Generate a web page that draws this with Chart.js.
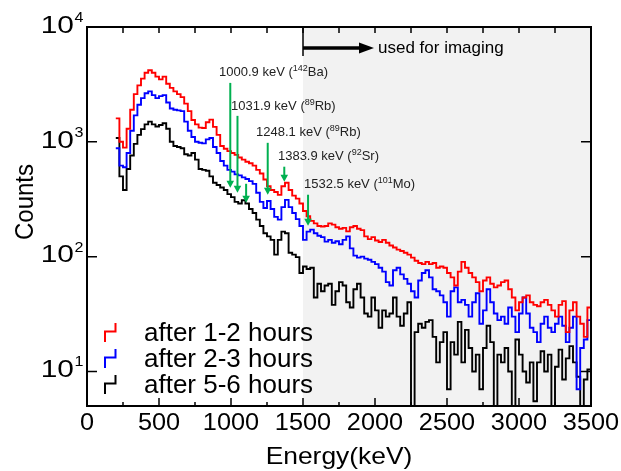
<!DOCTYPE html>
<html>
<head>
<meta charset="utf-8">
<script src="https://cdn.jsdelivr.net/npm/chart.js@4.4.1/dist/chart.umd.min.js"></script>
<style>
  body { margin: 0; background: #fff; }
</style>
</head>
<body>
<canvas id="spectrum" width="621" height="471"></canvas>
<script>
// spectrum bins: left edges from 200 keV, 25 keV wide, up to 3500 keV
const binStart = 200;
const binWidth = 25;
const energyMax = 3500;

// counts per bin
const counts12h = [
    1600, 1000, 890, 1300, 1900, 2600, 3100, 3550, 4000, 4200,
    4000, 3700, 3500, 3700, 3200, 2950, 2750, 2600, 2450, 2150,
    1850, 1550, 1420, 1330, 1320, 1480, 1560, 1350, 1150, 920,
    870, 830, 800, 770, 730, 700, 670, 650, 620, 570,
    530, 470, 410, 380, 365, 345, 410, 440, 380, 340,
    320, 290,
    250, 225, 205, 195, 185, 183, 185, 195, 190, 180,
    175, 178, 166, 180, 185, 175, 170, 150, 142, 148,
    138, 134, 140, 132, 125, 120, 115, 112, 108, 104,
    98, 92, 88, 86, 90,
    86, 88, 80, 82, 80, 72, 66, 56, 74, 90,
    80, 72, 66, 60, 50, 62, 66, 58, 54, 56,
    60, 62, 52, 44, 34, 40, 44, 46, 40, 38,
    37, 40, 42, 38, 34, 30, 38, 41, 22, 34,
    40, 30, 26, 20, 36
];
const counts23h = [
    880, 620, 600, 800, 1250, 1700, 2100, 2400, 2650, 2750,
    2550, 2400, 2500, 2550, 2200, 1950, 1900, 1880, 1850, 1500,
    1250, 1100, 1000, 980, 970, 1050, 1080, 900, 800, 680,
    620, 570, 550, 520, 510, 490, 475, 455, 430, 360,
    300, 265, 305, 260, 222, 210, 270, 312, 270, 240,
    212, 185,
    140, 165, 172, 160, 152, 148, 135, 140, 132, 136,
    128, 140, 150, 118, 102, 98, 100, 96, 94, 90,
    86, 80, 74, 60, 56, 76, 80, 70, 64, 58,
    50, 44, 62, 72, 76, 66, 52, 50, 46, 40,
    30, 50, 54, 40, 42, 38, 30, 40, 48, 26,
    34, 52, 40, 32, 28, 30, 26, 36, 30, 22,
    32, 44, 32, 24, 22, 18, 26, 30, 24, 22,
    26, 30, 25, 18, 24, 30, 7, 16, 19, 28
];
const counts56h = [
    1080, 500, 380, 580, 760, 960, 1150, 1290, 1420, 1500,
    1420, 1360, 1400, 1450, 1300, 1000, 920, 900, 880, 780,
    760, 800, 700, 580, 570, 560, 500, 440, 420, 400,
    380, 350, 330, 300, 290, 310, 290, 260, 240, 210,
    185, 160, 150, 140, 104, 140, 165, 160, 108, 104,
    99, 72,
    82, 78, 80, 44, 58, 50, 56, 58, 38, 50,
    60, 56, 40, 36, 52, 58, 44, 32, 30, 44,
    34, 24, 34, 30, 32, 44, 30, 25, 32, 40,
    3, 22, 26, 24, 27,
    28, 20, 12, 18, 22, 7, 18, 14, 27, 12,
    23, 16, 10, 14, 7, 16, 25, 18, 3, 14,
    12, 16, 10, 3, 19, 14, 10, 8, 12, 5.5,
    12, 15, 10, 14, 3, 11, 15.5, 8.5, 13, 16.6,
    12, 9, 3, 8.5, 10.4
];

const seriesNames = ['after 1-2 hours', 'after 2-3 hours', 'after 5-6 hours'];
const seriesColors = ['#ff0000', '#0000ff', '#000000'];

const xTicks = [0, 500, 1000, 1500, 2000, 2500, 3000, 3500];
const yDecades = [10, 100, 1000, 10000];
const imagingStart = 1500;

// gamma lines marked with green arrows
const peakText = ['1000.9 keV (', '1031.9 keV (', '1248.1 keV (', '1383.9 keV (', '1532.5 keV ('];
const peakMass = ['142', '89', '89', '92', '101'];
const peakElement = ['Ba)', 'Rb)', 'Rb)', 'Sr)', 'Mo)'];
const peakTextAt = [[917, 4083], [1000, 2055], [1174, 1231], [1326, 760], [1507, 437]];
const arrowEnergy = [995, 1045, 1105, 1255, 1370, 1535];
const arrowFrom = [3260, 1683, 431, 980, 607, 346];
const arrowTo = [399, 360, 295, 346, 449, 186];

let binEdges = [];
for (let e = binStart; e < energyMax; e += binWidth) binEdges.push(e);

function histPoints(vals) {
    let pts = binEdges.map((e, i) => ({ x: e, y: vals[i] }));
    pts.push({ x: energyMax, y: vals[vals.length - 1] });
    return pts;
}

const FONT = '"Liberation Sans", Arial, sans-serif';

function put(ctx, s, x, y, size, align, sx) {
    ctx.save();
    ctx.font = size + 'px ' + FONT;
    ctx.textAlign = align;
    ctx.textBaseline = 'alphabetic';
    ctx.translate(x, y);
    ctx.scale(sx, 1);
    ctx.fillText(s, 0, 0);
    let w = ctx.measureText(s).width * sx;
    ctx.restore();
    return w;
}

const decorations = {
    id: 'decorations',
    beforeDatasetsDraw(chart) {
        const { ctx, chartArea: a, scales } = chart;
        const xs = scales.x.getPixelForValue(imagingStart);
        ctx.save();
        ctx.fillStyle = '#f2f2f2';
        ctx.fillRect(xs, a.top, a.right - xs, a.bottom - a.top);
        ctx.restore();
    },
    afterDatasetsDraw(chart) {
        const { ctx, chartArea: a, scales } = chart;
        const x = scales.x, y = scales.y;
        ctx.save();
        ctx.fillStyle = '#000';
        ctx.strokeStyle = '#000';

        // frame
        ctx.lineWidth = 2;
        ctx.strokeRect(a.left, a.top, a.right - a.left, a.bottom - a.top);

        // x ticks, bottom and top, pointing inward
        ctx.lineWidth = 1.5;
        ctx.beginPath();
        for (let v = 250; v < energyMax; v += 250) {
            const px = x.getPixelForValue(v);
            const major = v % 500 === 0;
            ctx.moveTo(px, a.bottom);
            ctx.lineTo(px, a.bottom - (major ? 8 : 4));
            ctx.moveTo(px, a.top);
            ctx.lineTo(px, a.top + 6);
        }
        // y ticks, left and right
        yDecades.forEach(v => {
            const py = y.getPixelForValue(v);
            ctx.moveTo(a.left, py);
            ctx.lineTo(a.left + 10, py);
            ctx.moveTo(a.right, py);
            ctx.lineTo(a.right - 10, py);
        });
        ctx.stroke();

        // tick labels
        xTicks.forEach(v => {
            put(ctx, String(v), x.getPixelForValue(v), 430, 23, 'center', 1.1);
        });
        yDecades.forEach((v, i) => {
            const py = y.getPixelForValue(v);
            put(ctx, '10', 74, py + 5.7, 23, 'right', 1.3);
            put(ctx, String(i + 1), 74.5, py - 5, 14, 'left', 1.15);
        });

        // axis titles
        put(ctx, 'Energy(keV)', (a.left + a.right) / 2, 464, 24, 'center', 1.1);
        ctx.save();
        ctx.translate(33, 202);
        ctx.rotate(-Math.PI / 2);
        ctx.scale(1, 1.1);
        ctx.font = '24px ' + FONT;
        ctx.textAlign = 'center';
        ctx.textBaseline = 'alphabetic';
        ctx.fillText('Counts', 0, 0);
        ctx.restore();

        // "used for imaging" arrow
        ctx.lineWidth = 1.5;
        ctx.beginPath();
        ctx.moveTo(x.getPixelForValue(imagingStart), a.top);
        ctx.lineTo(x.getPixelForValue(imagingStart), a.top + 29);
        ctx.stroke();
        ctx.lineWidth = 3.5;
        ctx.beginPath();
        ctx.moveTo(x.getPixelForValue(imagingStart), 48);
        ctx.lineTo(362, 48);
        ctx.stroke();
        ctx.beginPath();
        ctx.moveTo(359, 42.5);
        ctx.lineTo(374, 48);
        ctx.lineTo(359, 53.5);
        ctx.closePath();
        ctx.fill();
        put(ctx, 'used for imaging', 378, 53, 17, 'left', 1);

        // legend
        const rows = [341, 367, 393];
        rows.forEach((b, i) => {
            ctx.strokeStyle = seriesColors[i];
            ctx.lineWidth = 2;
            ctx.beginPath();
            ctx.moveTo(105, b + 1);
            ctx.lineTo(105, b - 9.5);
            ctx.lineTo(115.5, b - 9.5);
            ctx.lineTo(115.5, b - 18);
            ctx.stroke();
            ctx.fillStyle = '#000';
            put(ctx, seriesNames[i], 144, b, 25, 'left', 1.04);
        });

        // green arrows
        ctx.strokeStyle = '#00b050';
        ctx.fillStyle = '#00b050';
        ctx.lineWidth = 2;
        arrowEnergy.forEach((e, i) => {
            const px = x.getPixelForValue(e);
            const y0 = y.getPixelForValue(arrowFrom[i]);
            const y1 = y.getPixelForValue(arrowTo[i]);
            ctx.beginPath();
            ctx.moveTo(px, y0);
            ctx.lineTo(px, y1 - 6);
            ctx.stroke();
            ctx.beginPath();
            ctx.moveTo(px - 3.8, y1 - 7);
            ctx.lineTo(px + 3.8, y1 - 7);
            ctx.lineTo(px, y1);
            ctx.closePath();
            ctx.fill();
        });

        // peak labels
        ctx.fillStyle = '#222';
        peakText.forEach((t, i) => {
            let px = x.getPixelForValue(peakTextAt[i][0]);
            const py = y.getPixelForValue(peakTextAt[i][1]) + 4.5;
            px += put(ctx, t, px, py, 13, 'left', 1);
            px += put(ctx, peakMass[i], px, py - 5, 9, 'left', 1);
            put(ctx, peakElement[i], px, py, 13, 'left', 1);
        });
        ctx.restore();
    }
};

const ctx = document.getElementById('spectrum').getContext('2d');
const spectrumChart = new Chart(ctx, {
    type: 'line',
    data: {
        datasets: [counts12h, counts23h, counts56h].map((vals, i) => ({
            label: seriesNames[i],
            data: histPoints(vals),
            borderColor: seriesColors[i],
            borderWidth: 1.9,
            stepped: 'before',
            fill: false,
            pointRadius: 0
        }))
    },
    options: {
        responsive: false,
        animation: false,
        layout: { padding: { left: 87, right: 30, top: 27, bottom: 65 } },
        plugins: {
            legend: { display: false },
            tooltip: { enabled: false }
        },
        scales: {
            x: { type: 'linear', min: 0, max: energyMax, display: false },
            y: { type: 'logarithmic', min: 5, max: 10000, display: false }
        }
    },
    plugins: [decorations]
});
</script>
</body>
</html>
